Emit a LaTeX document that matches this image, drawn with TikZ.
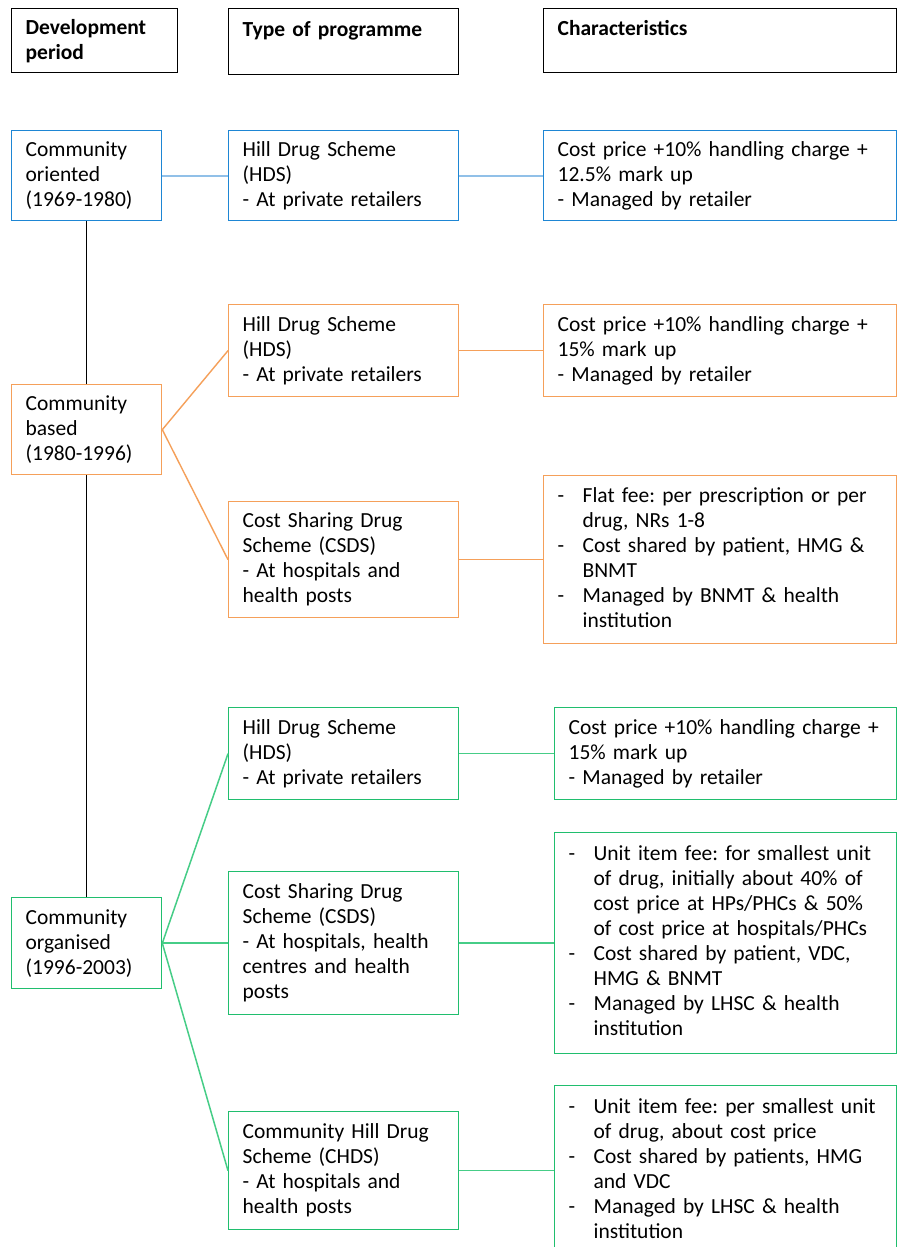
\documentclass[tikz,border=0pt]{standalone}
\usepackage{fontspec}
\setmainfont{Carlito}
\frenchspacing
\definecolor{bblue}{RGB}{30,134,212}
\definecolor{lblue}{RGB}{145,192,232}
\definecolor{orng}{RGB}{245,160,90}
\definecolor{grn}{RGB}{32,190,110}
\definecolor{lgrn}{RGB}{70,205,135}
\newcommand{\dashlist}[1]{\begin{tabular}{@{}p{25pt}@{}l@{}}#1\end{tabular}}
\begin{document}
\begin{tikzpicture}[x=1pt,y=-1pt,
  box/.style={draw, line width=1.3pt, anchor=north west, inner xsep=14pt, inner ysep=0pt,
    align=left, font=\fontsize{21.5}{25}\selectfont},
  hbox/.style={box, draw=black, font=\fontsize{21.5}{25}\selectfont\bfseries},
  bluebox/.style={box, draw=bblue},
  orbox/.style={box, draw=orng},
  grbox/.style={box, draw=grn},
  pw/.style={text width=122pt},
  tw/.style={text width=202pt},
  cw/.style={text width=325pt},
  gw/.style={text width=314pt},
  bline/.style={draw=lblue, line width=2.2pt},
  oline/.style={draw=orng, line width=1.4pt},
  gline/.style={draw=lgrn, line width=1.5pt},
  vline/.style={draw=black, line width=1.1pt}]
\useasboundingbox (0,0) rectangle (903,1247);
\fill[white] (0,0) rectangle (903,1247);

% headers
\node[hbox, text width=138pt, minimum height=64pt] (h1) at (11,8) {Development\\period};
\node[hbox, tw, minimum height=66pt] (h2) at (228,8) {Type of programme\\\mbox{}};
\node[hbox, cw, minimum height=64pt] (h3) at (543,8) {Characteristics\\\mbox{}};

% periods
\node[bluebox, pw, minimum height=90pt] (p1) at (11,130) {Community\\oriented\\(1969-1980)};
\node[orbox, pw, minimum height=90pt] (p2) at (11,384) {Community\\based\\(1980-1996)};
\node[grbox, pw, minimum height=91pt] (p3) at (11,897) {Community\\organised\\(1996-2003)};

\draw[vline] (p1.south) -- (p2.north);
\draw[vline] (p2.south) -- (p3.north);

% row 1
\node[bluebox, tw, minimum height=90pt] (t1) at (228,130) {Hill Drug Scheme\\(HDS)\\- At private retailers};
\node[bluebox, cw, minimum height=90pt] (c1) at (543,130) {Cost price +10\% handling charge +\\12.5\% mark up\\- Managed by retailer};
\draw[bline] (p1.east) -- (t1.west);
\draw[bline] (t1.east) -- (c1.west);

% row 2
\node[orbox, tw, minimum height=92pt] (t2a) at (228,304) {Hill Drug Scheme\\(HDS)\\- At private retailers};
\node[orbox, cw, minimum height=92pt] (c2a) at (543,304) {Cost price +10\% handling charge +\\15\% mark up\\- Managed by retailer};
\node[orbox, tw, minimum height=116pt] (t2b) at (228,501) {Cost Sharing Drug\\Scheme (CSDS)\\- At hospitals and\\health posts};
\node[orbox, cw, minimum height=168pt] (c2b) at (543,475) {\dashlist{- & Flat fee: per prescription or per\\ & drug, NRs 1-8\\ - & Cost shared by patient, HMG \&\\ & BNMT\\ - & Managed by BNMT \& health\\ & institution}};
\draw[oline] (p2.east) -- (t2a.west);
\draw[oline] (p2.east) -- (t2b.west);
\draw[oline] (t2a.east) -- (c2a.west);
\draw[oline] (t2b.east) -- (c2b.west);

% row 3
\node[grbox, tw, minimum height=92pt] (t3a) at (228,707) {Hill Drug Scheme\\(HDS)\\- At private retailers};
\node[grbox, gw, minimum height=92pt] (c3a) at (554,707) {Cost price +10\% handling charge +\\15\% mark up\\- Managed by retailer};
\node[grbox, tw, minimum height=143pt] (t3b) at (228,871) {Cost Sharing Drug\\Scheme (CSDS)\\- At hospitals, health\\centres and health\\posts};
\node[grbox, gw, minimum height=221pt] (c3b) at (554,832) {\dashlist{- & Unit item fee: for smallest unit\\ & of drug, initially about 40\% of\\ & cost price at HPs/PHCs \& 50\%\\ & of cost price at hospitals/PHCs\\ - & Cost shared by patient, VDC,\\ & HMG \& BNMT\\ - & Managed by LHSC \& health\\ & institution}};
\node[grbox, tw, minimum height=118pt] (t3c) at (228,1111) {Community Hill Drug\\Scheme (CHDS)\\- At hospitals and\\health posts};
\node[grbox, gw, minimum height=170pt] (c3c) at (554,1085) {\dashlist{- & Unit item fee: per smallest unit\\ & of drug, about cost price\\ - & Cost shared by patients, HMG\\ & and VDC\\ - & Managed by LHSC \& health\\ & institution}};
\draw[gline] (p3.east) -- (t3a.west);
\draw[gline] (p3.east) -- (t3b.west);
\draw[gline] (p3.east) -- (t3c.west);
\draw[gline] (t3a.east) -- (c3a.west);
\draw[gline] (t3b.east) -- (c3b.west);
\draw[gline] (t3c.east) -- (c3c.west);
\end{tikzpicture}
\end{document}
